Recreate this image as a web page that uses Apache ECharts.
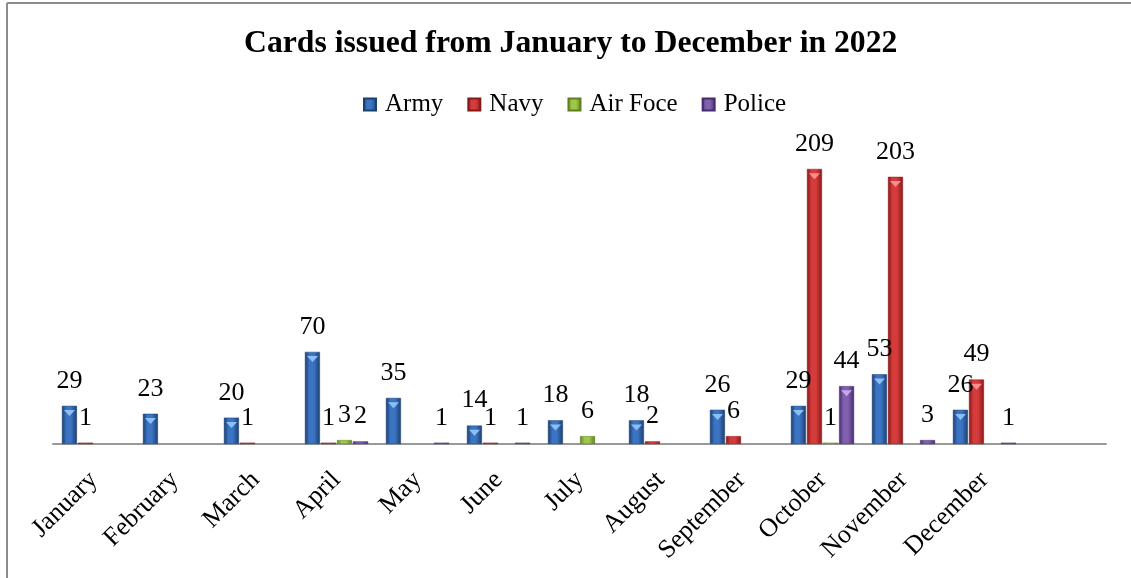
<!DOCTYPE html>
<html>
<head>
<meta charset="utf-8">
<script src="https://cdn.jsdelivr.net/npm/echarts@6/dist/echarts.min.js"></script>
<style>
html,body{margin:0;padding:0;background:#fff;}
#chart{width:1131px;height:578px;}
</style>
</head>
<body>
<div id="chart"></div>
<script>
const categories = ['January','February','March','April','May','June','July','August','September','October','November','December',''];
const seriesNames = ['Army','Navy','Air Foce','Police'];
const army     = [29, 23, 20, 70, 35, 14, 18, 18, 26, 29, 53, 26];
const navy     = [1, null, 1, 1, null, 1, null, 2, 6, 209, 203, 49];
const airForce = [null, null, null, 3, null, null, 6, null, null, 1, null, null];
const police   = [null, null, null, 2, 1, 1, null, null, null, 44, 3, 1];
const titleText = 'Cards issued from January to December in 2022';

const palette = [
  {edge:'#1b3e70', mid:'#3b74c2', hi:'#8cc0f5'},
  {edge:'#861818', mid:'#d63b3b', hi:'#f59090'},
  {edge:'#5f7f1e', mid:'#9fc84a', hi:'#d8f090'},
  {edge:'#452a6e', mid:'#8160b0', hi:'#c4a8ea'}
];
const values = [army, navy, airForce, police];
const FONT = '"Liberation Serif","Times New Roman",serif';

function grad(p){
  return new echarts.graphic.LinearGradient(0,0,1,0,[
    {offset:0,color:p.edge},{offset:0.3,color:p.mid},{offset:0.6,color:p.mid},{offset:1,color:p.edge}
  ]);
}

const series = [];
values.forEach((vals,i)=>{
  series.push({
    name: seriesNames[i], type:'bar', data: vals,
    barWidth: 15, barGap: '7%', barCategoryGap: 18,
    itemStyle:{color: grad(palette[i]), borderColor: palette[i].edge, borderWidth: 0.5},
    label:{show:true, position:'top', distance:12, color:'#000', fontFamily:FONT, fontSize:26},
    z: 2
  });
});
const offsets = [-24, -8, 8, 24];
values.forEach((vals,i)=>{
  series.push({
    name: seriesNames[i] + ' top', type:'pictorialBar',
    data: vals.map(v => (v !== null && v >= 10) ? v : '-'),
    symbol:'triangle', symbolRotate:180, symbolSize:[11,6],
    symbolPosition:'end', symbolOffset:[offsets[i], '70%'],
    itemStyle:{color: palette[i].hi}, z: 3, silent:true,
    label:{show:false}
  });
});

const chart = echarts.init(document.getElementById('chart'), null, {renderer:'canvas'});
chart.setOption({
  animation:false,
  backgroundColor:'#fff',
  title:{text:titleText, left:239, top:23,
    textStyle:{fontFamily:FONT, fontSize:31.7, fontWeight:'bold', color:'#000'}},
  legend:{data:seriesNames, left:358, top:87, itemWidth:12, itemHeight:12, itemGap:24,
    icon:'rect',
    textStyle:{fontFamily:FONT, fontSize:25, color:'#000', padding:[0,0,0,4]}},
  grid:{left:53, right:25, top:115, bottom:134, containLabel:false},
  xAxis:{type:'category', data:categories,
    axisLine:{lineStyle:{color:'#999', width:2}},
    axisTick:{show:false},
    axisLabel:{interval:0, rotate:45, margin:32, color:'#000', fontFamily:FONT, fontSize:26}},
  yAxis:{type:'value', min:0, max:250, show:false, splitLine:{show:false}},
  graphic:[
    {type:'line', shape:{x1:7, y1:3, x2:1131, y2:3}, style:{stroke:'#8c8c8c', lineWidth:2}},
    {type:'line', shape:{x1:7, y1:3, x2:7, y2:578}, style:{stroke:'#8c8c8c', lineWidth:2}}
  ],
  series: series
});
</script>
</body>
</html>
